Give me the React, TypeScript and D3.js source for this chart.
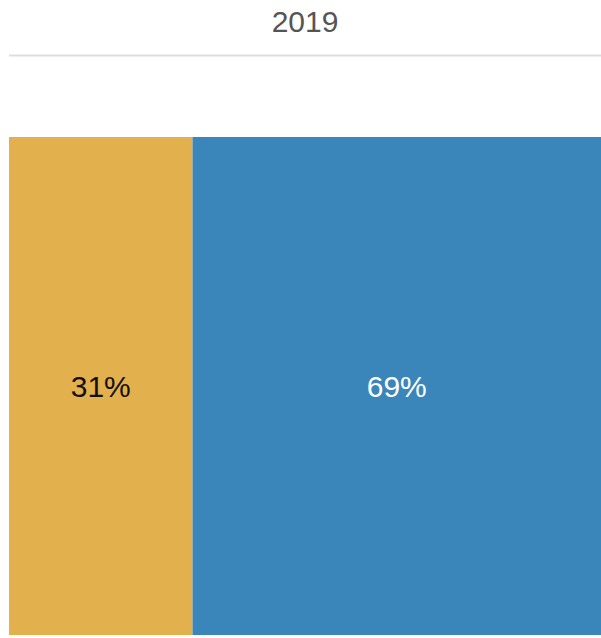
import React from "react";
import * as d3 from "d3";

const title = "2019";
const categories = ["A", "B"];
const values = [31, 69];
const colors = ["#E3B04E", "#3A86BA"];
const labelColors = ["#111111", "#ffffff"];

const W = 601;
const H = 638;
const left = 9;
const right = 601;
const barTop = 137;
const barBottom = 635;

export default function App() {
  const x = d3.scaleLinear().domain([0, d3.sum(values)]).range([left, right]);
  const y = d3.scaleLinear().domain([0, 1]).range([barBottom, barTop]);
  const cum = d3.cumsum(values);
  const segs = values.map((v, i) => ({ cat: categories[i], x0: cum[i] - v, x1: cum[i], v, i }));
  return (
    <svg
      width={W}
      height={H}
      style={{ position: "absolute", left: 0, top: 0 }}
      fontFamily="'Liberation Sans', Arial, Helvetica, sans-serif"
    >
      <text x={(left + right) / 2} y={32} textAnchor="middle" fontSize={30} fill="#555555">
        {title}
      </text>
      <line x1={left} x2={right} y1={55.5} y2={55.5} stroke="#dddddd" strokeWidth={2} />
      {segs.map((s) => (
        <g key={s.cat}>
          <rect
            x={x(s.x0)}
            y={y(1)}
            width={x(s.x1) - x(s.x0)}
            height={y(0) - y(1)}
            fill={colors[s.i]}
          />
          <text
            x={(x(s.x0) + x(s.x1)) / 2}
            y={(y(0) + y(1)) / 2}
            dy="0.35em"
            textAnchor="middle"
            fontSize={30}
            fill={labelColors[s.i]}
          >
            {s.v}%
          </text>
        </g>
      ))}
    </svg>
  );
}
